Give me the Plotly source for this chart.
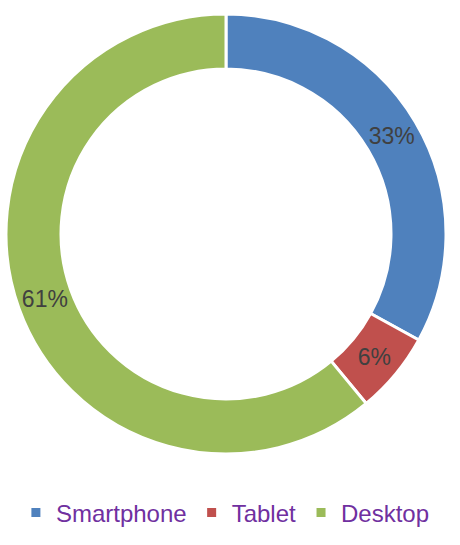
import plotly.graph_objects as go

categories = ["Smartphone", "Tablet", "Desktop"]
values = [33, 6, 61]
colors = ["#4F81BD", "#C0504D", "#9BBB59"]

W, H = 460, 545
cx, cy, R = 226, 234, 220

fig = go.Figure(go.Pie(
    labels=categories,
    values=values,
    hole=0.75,
    sort=False,
    direction="clockwise",
    rotation=0,
    marker=dict(colors=colors, line=dict(color="white", width=3)),
    textinfo="percent",
    texttemplate="%{percent:.0%}",
    textposition="inside",
    insidetextorientation="auto",
    textfont=dict(family="Liberation Sans, Arial, sans-serif", size=23, color="#404040"),
    domain=dict(x=[(cx - R) / W, (cx + R) / W], y=[1 - (cy + R) / H, 1 - (cy - R) / H]),
    hoverinfo="label+percent",
))

fig.update_layout(
    width=W, height=H,
    margin=dict(l=0, r=0, t=0, b=0),
    paper_bgcolor="white",
    plot_bgcolor="white",
    showlegend=True,
    legend=dict(
        orientation="h",
        x=0.49, xanchor="center",
        y=1 - 513 / H, yanchor="middle",
        font=dict(family="Liberation Sans, Arial, sans-serif", size=24, color="#7030A0"),
        itemwidth=30,
        traceorder="normal",
    ),
)

fig.write_html("out.html", config={"displayModeBar": False},
               post_script="document.body.style.margin='0';")
